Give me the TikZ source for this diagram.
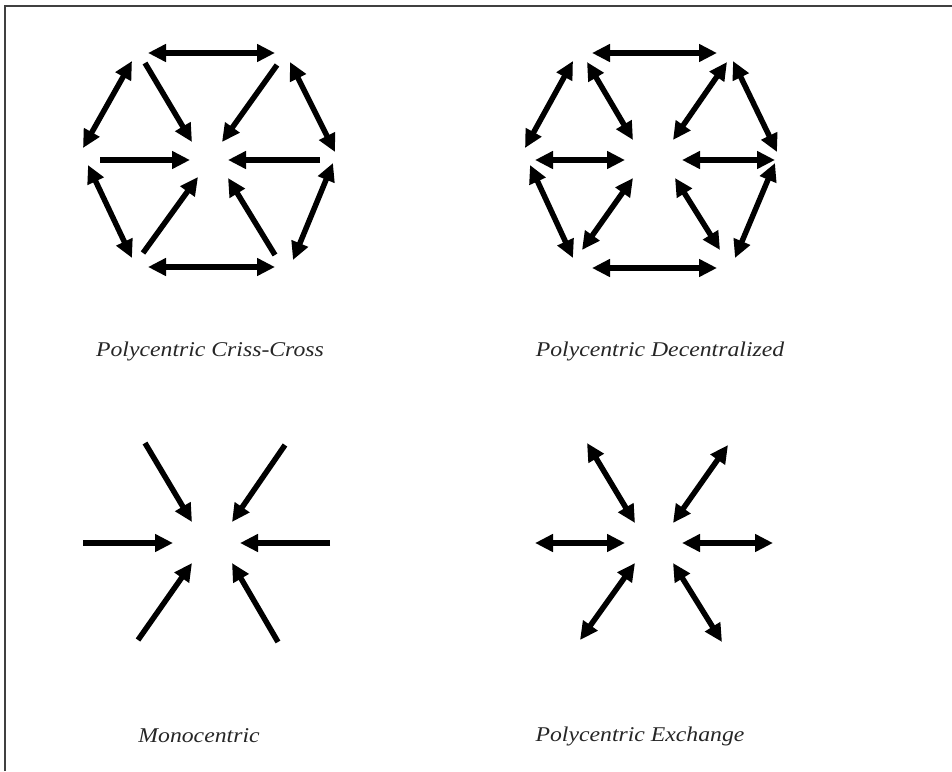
\documentclass[tikz,border=0pt]{standalone}
\usepackage{fontspec}
\setmainfont{Liberation Serif}
\newfontfamily\lblfont[FakeStretch=1.13]{Liberation Serif}
\usetikzlibrary{arrows.meta}
\begin{document}
\begin{tikzpicture}[x=1pt,y=-1pt,
  tip/.tip={Triangle[length=18pt,width=17pt]},
  one/.style={line width=5.5pt, -tip},
  two/.style={line width=5.5pt, tip-tip},
  frame/.style={line width=2pt, draw=black!75},
  lbl/.style={font=\lblfont\fontsize{21}{25}\selectfont\itshape, text=black!85}]
\useasboundingbox (0,0) rectangle (952,771);
% frame (top and left only)
\coordinate (f1) at (5,771);
\coordinate (f2) at (5,6);
\coordinate (f3) at (952,6);
\draw[frame] (f1) -- (f2) -- (f3);

% ---------- Polycentric Criss-Cross ----------
\coordinate (a1) at (148,53);  \coordinate (a2) at (275,53);
\coordinate (a3) at (132,61);  \coordinate (a4) at (83,148);
\coordinate (a5) at (290,62);  \coordinate (a6) at (335,152);
\coordinate (a7) at (88,165);  \coordinate (a8) at (132,258);
\coordinate (a9) at (333,163); \coordinate (a10) at (293,260);
\coordinate (a11) at (148,267);\coordinate (a12) at (275,267);
\draw[two] (a1) -- (a2);
\draw[two] (a3) -- (a4);
\draw[two] (a5) -- (a6);
\draw[two] (a7) -- (a8);
\draw[two] (a9) -- (a10);
\draw[two] (a11) -- (a12);
\coordinate (s1) at (145,63);  \coordinate (t1) at (192,142);
\coordinate (s2) at (277,65);  \coordinate (t2) at (222,142);
\coordinate (s3) at (100,160); \coordinate (t3) at (190,160);
\coordinate (s4) at (320,160); \coordinate (t4) at (228,160);
\coordinate (s5) at (143,253); \coordinate (t5) at (198,177);
\coordinate (s6) at (275,255); \coordinate (t6) at (228,178);
\draw[one] (s1) -- (t1);
\draw[one] (s2) -- (t2);
\draw[one] (s3) -- (t3);
\draw[one] (s4) -- (t4);
\draw[one] (s5) -- (t5);
\draw[one] (s6) -- (t6);
\node[lbl] (L1) at (210,351) {Polycentric Criss-Cross};

% ---------- Polycentric Decentralized ----------
\coordinate (b1) at (592,53);  \coordinate (b2) at (717,53);
\coordinate (b3) at (573,61);  \coordinate (b4) at (525,148);
\coordinate (b5) at (733,61);  \coordinate (b6) at (777,152);
\coordinate (b7) at (530,165); \coordinate (b8) at (573,258);
\coordinate (b9) at (775,163); \coordinate (b10) at (735,258);
\coordinate (b11) at (592,268);\coordinate (b12) at (717,268);
\coordinate (b13) at (587,62); \coordinate (b14) at (633,140);
\coordinate (b15) at (727,62); \coordinate (b16) at (673,140);
\coordinate (b17) at (535,160);\coordinate (b18) at (625,160);
\coordinate (b19) at (682,160);\coordinate (b20) at (775,160);
\coordinate (b21) at (582,250);\coordinate (b22) at (633,178);
\coordinate (b23) at (675,178);\coordinate (b24) at (720,250);
\draw[two] (b1) -- (b2);
\draw[two] (b3) -- (b4);
\draw[two] (b5) -- (b6);
\draw[two] (b7) -- (b8);
\draw[two] (b9) -- (b10);
\draw[two] (b11) -- (b12);
\draw[two] (b13) -- (b14);
\draw[two] (b15) -- (b16);
\draw[two] (b17) -- (b18);
\draw[two] (b19) -- (b20);
\draw[two] (b21) -- (b22);
\draw[two] (b23) -- (b24);
\node[lbl] (L2) at (660,351) {Polycentric Decentralized};

% ---------- Monocentric ----------
\coordinate (m1) at (145,443); \coordinate (n1) at (192,522);
\coordinate (m2) at (285,445); \coordinate (n2) at (232,522);
\coordinate (m3) at (83,543);  \coordinate (n3) at (173,543);
\coordinate (m4) at (330,543); \coordinate (n4) at (240,543);
\coordinate (m5) at (138,640); \coordinate (n5) at (192,563);
\coordinate (m6) at (278,642); \coordinate (n6) at (232,563);
\draw[one] (m1) -- (n1);
\draw[one] (m2) -- (n2);
\draw[one] (m3) -- (n3);
\draw[one] (m4) -- (n4);
\draw[one] (m5) -- (n5);
\draw[one] (m6) -- (n6);
\node[lbl] (L3) at (199,736) {Monocentric};

% ---------- Polycentric Exchange ----------
\coordinate (e1) at (587,443); \coordinate (g1) at (635,523);
\coordinate (e2) at (728,445); \coordinate (g2) at (673,523);
\coordinate (e3) at (535,543); \coordinate (g3) at (625,543);
\coordinate (e4) at (682,543); \coordinate (g4) at (773,543);
\coordinate (e5) at (580,640); \coordinate (g5) at (635,563);
\coordinate (e6) at (673,563); \coordinate (g6) at (722,642);
\draw[two] (e1) -- (g1);
\draw[two] (e2) -- (g2);
\draw[two] (e3) -- (g3);
\draw[two] (e4) -- (g4);
\draw[two] (e5) -- (g5);
\draw[two] (e6) -- (g6);
\node[lbl] (L4) at (640,736) {Polycentric Exchange};
\end{tikzpicture}
\end{document}
